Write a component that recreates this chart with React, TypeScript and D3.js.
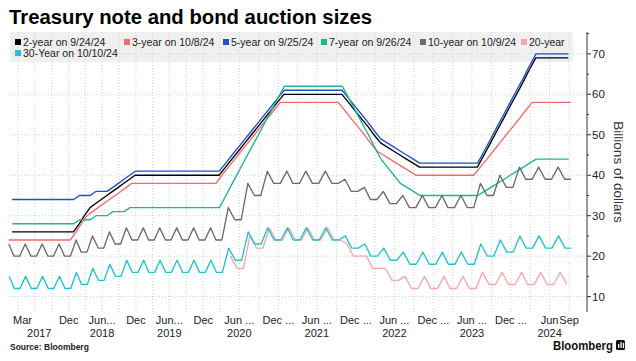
import React from 'react'
import * as d3 from 'd3'

const W = 636
const H = 361
const plot = { left: 9, right: 587, top: 32, bottom: 312 }
const font = "'Liberation Sans', Arial, sans-serif"

// Monthly auction sizes in billions of dollars, starting Feb 2017 (20-year starts May 2020)
// prettier-ignore
const twoYear = [
  26, 26, 26, 26, 26, 26, 26, 26, 26, 26, 26,
  26, 28, 30, 32, 33, 34, 35, 36, 37, 38, 39, 40,
  40, 40, 40, 40, 40, 40, 40, 40, 40, 40, 40, 40,
  40, 40, 40, 42, 44, 46, 48, 50, 52, 54, 56, 58,
  60, 60, 60, 60, 60, 60, 60, 60, 60, 60, 58, 56,
  54, 52, 50, 48, 47, 46, 45, 44, 43, 42, 42, 42,
  42, 42, 42, 42, 42, 42, 42, 45, 48, 51, 54, 57,
  60, 63, 66, 69, 69, 69, 69, 69, 69,
]
// prettier-ignore
const threeYear = [
  24, 24, 24, 24, 24, 24, 24, 24, 24, 24, 24,
  24, 26, 28, 30, 31, 32, 33, 34, 35, 36, 37, 38,
  38, 38, 38, 38, 38, 38, 38, 38, 38, 38, 38, 38,
  38, 38, 38, 40, 42, 44, 46, 48, 50, 52, 54, 56,
  58, 58, 58, 58, 58, 58, 58, 58, 58, 58, 56, 54,
  52, 50, 48, 46, 45, 44, 43, 42, 41, 40, 40, 40,
  40, 40, 40, 40, 40, 40, 40, 42, 44, 46, 48, 50,
  52, 54, 56, 58, 58, 58, 58, 58, 58, 58,
]
// prettier-ignore
const fiveYear = [
  34, 34, 34, 34, 34, 34, 34, 34, 34, 34, 34,
  34, 35, 35, 35, 36, 36, 36, 37, 38, 39, 40, 41,
  41, 41, 41, 41, 41, 41, 41, 41, 41, 41, 41, 41,
  41, 41, 41, 43, 45, 47, 49, 51, 53, 55, 57, 59,
  61, 61, 61, 61, 61, 61, 61, 61, 61, 61, 59, 57,
  55, 53, 51, 49, 48, 47, 46, 45, 44, 43, 43, 43,
  43, 43, 43, 43, 43, 43, 43, 46, 49, 52, 55, 58,
  61, 64, 67, 70, 70, 70, 70, 70, 70,
]
// prettier-ignore
const sevenYear = [
  28, 28, 28, 28, 28, 28, 28, 28, 28, 28, 28,
  28, 29, 29, 29, 30, 30, 30, 31, 31, 31, 32, 32,
  32, 32, 32, 32, 32, 32, 32, 32, 32, 32, 32, 32,
  32, 32, 32, 35, 38, 41, 44, 47, 50, 53, 56, 59,
  62, 62, 62, 62, 62, 62, 62, 62, 62, 62, 59, 56,
  53, 50, 47, 44, 42, 40, 38, 37, 36, 35, 35, 35,
  35, 35, 35, 35, 35, 35, 35, 36, 37, 38, 39, 40,
  41, 42, 43, 44, 44, 44, 44, 44, 44,
]
// prettier-ignore
const tenYear = [
  23, 20, 20, 23, 20, 20, 23, 20, 20, 23, 20,
  20, 24, 21, 21, 25, 22, 22, 26, 23, 23, 27, 24,
  24, 27, 24, 24, 27, 24, 24, 27, 24, 24, 27, 24,
  24, 27, 24, 24, 32, 29, 29, 38, 35, 35, 41, 38,
  38, 41, 38, 38, 41, 38, 38, 41, 38, 38, 39, 36,
  36, 37, 34, 34, 36, 33, 33, 35, 32, 32, 35, 32,
  32, 35, 32, 32, 35, 32, 32, 38, 35, 35, 40, 37,
  37, 42, 39, 39, 42, 39, 39, 42, 39, 39,
]
// prettier-ignore
const twentyYear = [
  20, 17, 17, 25, 22, 22, 27, 24,
  24, 27, 24, 24, 27, 24, 24, 27, 24, 24, 23, 20,
  20, 20, 17, 17, 17, 14, 14, 15, 12, 12, 15, 12,
  12, 15, 12, 12, 15, 12, 12, 16, 13, 13, 16, 13,
  13, 16, 13, 13, 16, 13, 13, 16, 13,
]
// prettier-ignore
const thirtyYear = [
  15, 12, 12, 15, 12, 12, 15, 12, 12, 15, 12,
  12, 16, 13, 13, 17, 14, 14, 18, 15, 15, 19, 16,
  16, 19, 16, 16, 19, 16, 16, 19, 16, 16, 19, 16,
  16, 19, 16, 16, 22, 19, 19, 26, 23, 23, 27, 24,
  24, 27, 24, 24, 27, 24, 24, 27, 24, 24, 25, 22,
  22, 23, 20, 20, 22, 19, 19, 21, 18, 18, 21, 18,
  18, 21, 18, 18, 21, 18, 18, 23, 20, 20, 24, 21,
  21, 25, 22, 22, 25, 22, 22, 25, 22, 22,
]

const legendLabels = [
  '2-year on 9/24/24',
  '3-year on 10/8/24',
  '5-year on 9/25/24',
  '7-year on 9/26/24',
  '10-year on 10/9/24',
  '20-year',
  '30-Year on 10/10/24',
]
const colors = ['#000000', '#f26b6b', '#1d4fd0', '#1cb596', '#6b6b6b', '#f6a7a7', '#1ec3d2']
// first auction month [year, month index] and typical auction day for each series
const starts = [[2017, 1], [2017, 1], [2017, 1], [2017, 1], [2017, 1], [2020, 4], [2017, 1]]
const days = [26, 9, 27, 28, 9, 19, 11]

const yTicks = [10, 20, 30, 40, 50, 60, 70]
const yMinor = [15, 25, 35, 45, 55, 65, 75]

// x labels sit on quarter-end gridlines
const xLabelDates = ['2017-03', '2017-12', '2018-06', '2018-12', '2019-06', '2019-12', '2020-06', '2020-12',
  '2021-06', '2021-12', '2022-06', '2022-12', '2023-06', '2023-12', '2024-06', '2024-09']
const xMonthLabels = ['Mar', 'Dec', 'Jun...', 'Dec', 'Jun...', 'Dec', 'Jun ...', 'Dec ...',
  'Jun ...', 'Dec ...', 'Jun ...', 'Dec ...', 'Jun ...', 'Dec ...', 'Jun', 'Sep']
const xYearLabels = ['2017', '', '2018', '', '2019', '', '2020', '', '2021', '', '2022', '', '2023', '', '2024', '']

const legendX = [15, 124, 223, 321, 420, 521, 15]
const legendRow = [0, 0, 0, 0, 0, 0, 1]

const quarterEnd = (s: string) => {
  const [yy, mm] = s.split('-').map(Number)
  return new Date(yy, mm, 0)
}

const App = () => {
  // Bloomberg's axis is indexed by auction date, so spacing widens after the 20-year was added in 2020
  const x = d3
    .scaleTime()
    .domain([new Date(2017, 1, 10), new Date(2020, 2, 31), new Date(2024, 11, 23)])
    .range([plot.left, plot.left + 211, plot.right])
  const y = d3.scaleLinear().domain([6.2, 75.4]).range([plot.bottom, plot.top])

  const allValues = [twoYear, threeYear, fiveYear, sevenYear, tenYear, twentyYear, thirtyYear]
  const series = allValues.map((vals, k) => ({
    color: colors[k],
    points: vals.map((v, i) => ({ date: new Date(starts[k][0], starts[k][1] + i, days[k]), value: v })),
  }))

  const line = d3
    .line<{ date: Date; value: number }>()
    .x((d) => x(d.date))
    .y((d) => y(d.value))

  const gridDates = d3.range(0, 31).map((q) => new Date(2017, 3 + q * 3, 0))

  return (
    <svg
      width={W}
      height={H}
      style={{ position: 'absolute', left: 0, top: 0, background: '#fff' }}
      fontFamily={font}
    >
      <rect width={W} height={H} fill="#fff" />
      <text x={9} y={24} fontSize={20} fontWeight="bold" fill="#000" textLength={363} lengthAdjust="spacingAndGlyphs">
        Treasury note and bond auction sizes
      </text>

      {/* legend background */}
      <rect x={10} y={plot.top} width={563} height={30} fill="#f0f0f0" />

      {/* grid */}
      {yTicks.map((t) => (
        <line key={'h' + t} x1={plot.left} x2={plot.right} y1={y(t)} y2={y(t)} stroke="#d0d0d0" strokeDasharray="1,2" />
      ))}
      {gridDates.map((d, i) => (
        <line key={'v' + i} x1={x(d)} x2={x(d)} y1={plot.top} y2={plot.bottom} stroke="#d0d0d0" strokeDasharray="1,2" />
      ))}

      {/* legend */}
      {legendLabels.map((lab, i) => (
        <g key={lab} transform={`translate(${legendX[i]},${legendRow[i] * 11})`}>
          <rect x={0} y={39} width={6} height={6} fill={colors[i]} />
          <text x={8} y={46} fontSize={10.5} fill="#222">
            {lab}
          </text>
        </g>
      ))}

      {/* series */}
      {series.map((s, i) => (
        <path key={i} d={line(s.points) || ''} fill="none" stroke={s.color} strokeWidth={1.35} strokeLinejoin="round" />
      ))}

      {/* right axis */}
      <line x1={plot.right} x2={plot.right} y1={plot.top} y2={plot.bottom} stroke="#333" />
      {yMinor.map((t) => (
        <line key={'m' + t} x1={plot.right} x2={plot.right + 2} y1={y(t)} y2={y(t)} stroke="#333" />
      ))}
      {yTicks.map((t) => (
        <g key={'t' + t}>
          <line x1={plot.right} x2={plot.right + 4} y1={y(t)} y2={y(t)} stroke="#333" />
          <text x={plot.right + 5} y={y(t) + 4} fontSize={11.5} fill="#222">
            {t}
          </text>
        </g>
      ))}
      <text transform={`translate(614,172) rotate(90)`} textAnchor="middle" fontSize={13.5} fill="#333">
        Billions of dollars
      </text>

      {/* x labels */}
      {xLabelDates.map((s, i) => {
        const cx = x(quarterEnd(s))
        const first = i === 0
        return (
          <g key={s}>
            <text x={first ? cx - 5 : cx} y={324} fontSize={11} fill="#222" textAnchor={first ? 'start' : 'middle'}>
              {xMonthLabels[i]}
            </text>
            {xYearLabels[i] && (
              <text x={first ? cx + 9 : cx} y={337} fontSize={11} fill="#222" textAnchor={first ? 'start' : 'middle'}>
                {xYearLabels[i]}
              </text>
            )}
          </g>
        )
      })}

      {/* footer */}
      <text x={10} y={350} fontSize={8.5} fontWeight="bold" fill="#222">
        Source: Bloomberg
      </text>
      <text x={553} y={350} fontSize={13} fontWeight="bold" fill="#111" textLength={60} lengthAdjust="spacingAndGlyphs">
        Bloomberg
      </text>
      <rect x={616} y={340} width={9} height={10} rx={1.5} fill="#111" />
      <rect x={618} y={344} width={1.3} height={4} fill="#fff" />
      <rect x={620.4} y={342} width={1.3} height={6} fill="#fff" />
      <rect x={622.8} y={343} width={1.3} height={5} fill="#fff" />
    </svg>
  )
}

export default App
